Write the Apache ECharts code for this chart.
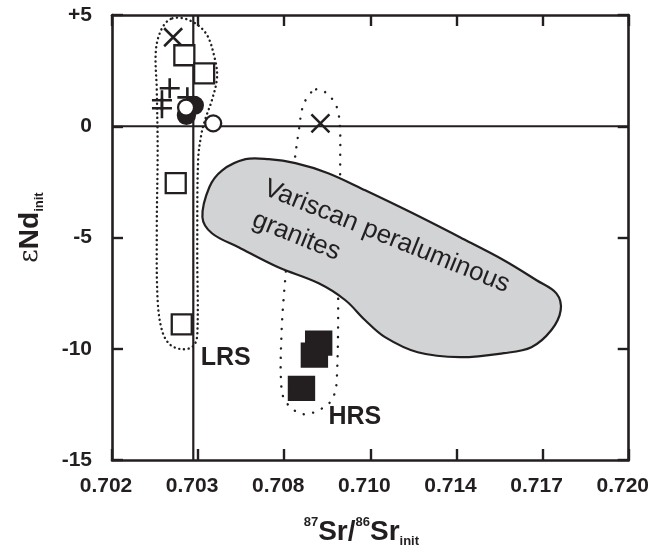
<!DOCTYPE html>
<html>
<head>
<meta charset="utf-8">
<script src="https://cdn.jsdelivr.net/npm/echarts@6/dist/echarts.min.js"></script>
<style>html,body{margin:0;padding:0;background:#fff;}#chart{width:652px;height:553px;}</style>
</head>
<body>
<div id="chart"></div>
<script>
// x axis is drawn in "tick position" units (0..6); labels are the printed ratios
const xTickLabels = ['0.702', '0.703', '0.708', '0.710', '0.714', '0.717', '0.720'];
const yTickValues = [-15, -10, -5, 0, 5];
const yTickLabels = ['-15', '-10', '-5', '0', '+5'];

// symbols [x position, εNd]
const crossPts = [[0.71, 4.0], [2.42, 0.13]];
const openSquarePts = [[0.84, 3.19], [1.07, 2.38], [0.74, -2.56], [0.81, -8.9]];
const plusPts = [[0.67, 1.71], [0.58, 1.17], [0.58, 0.81], [0.875, 1.30]];
const filledCirclePts = [[0.956, 0.94], [0.864, 0.49]];
const openCirclePts = [[0.86, 0.84], [1.175, 0.13]];
const filledSquarePts = [[2.40, -9.75], [2.35, -10.29], [2.20, -11.78]];

// reference lines
const vRefX = 0.944;
const hRefY = 0;

// outlines
const lrsEnvelope = [[0.70, 4.85], [0.90, 4.76], [1.09, 4.18], [1.19, 3.10], [1.22, 2.20], [1.16, 1.17], [1.09, 0.40], [1.04, -0.31], [1.00, -1.53], [0.99, -5.57], [0.99, -9.39], [0.94, -9.89], [0.81, -10.02], [0.67, -9.80], [0.58, -9.17], [0.53, -7.82], [0.52, -4.67], [0.53, -1.08], [0.52, 1.62], [0.51, 3.42], [0.58, 4.40]];
const hrsEnvelope = [[2.37, 1.66], [2.53, 1.35], [2.63, 0.58], [2.65, -1.39], [2.63, -5.57], [2.61, -11.42], [2.55, -12.31], [2.40, -12.76], [2.22, -12.94], [2.05, -12.54], [1.97, -11.87], [1.97, -9.17], [2.02, -6.47], [2.11, -1.98], [2.17, -0.18], [2.23, 1.03]];
const graniteField = [[1.05, -4.09], [1.13, -2.74], [1.28, -1.98], [1.55, -1.48], [1.82, -1.48], [2.13, -1.66], [2.51, -2.11], [2.94, -2.88], [3.47, -3.87], [4.04, -4.99], [4.55, -6.02], [4.93, -6.92], [5.16, -7.51], [5.21, -8.27], [5.10, -9.17], [4.87, -9.93], [4.55, -10.20], [4.04, -10.38], [3.55, -10.16], [3.17, -9.48], [2.94, -8.72], [2.71, -7.82], [2.40, -7.06], [1.93, -6.34], [1.47, -5.44], [1.16, -4.81]];

// annotation texts
const fieldTexts = [{ name: 'Variscan peraluminous', value: [3.19, -4.96] }, { name: 'granites', value: [2.14, -4.94] }];
const groupTexts = [{ name: 'LRS', value: [1.32, -10.43] }, { name: 'HRS', value: [2.82, -13.08] }];

const INK = '#231f20';
const FONT = "'Liberation Sans', Arial, sans-serif";

function polySeries(points, style, z, smooth) {
  return {
    type: 'custom', data: points, z: z, silent: true, clip: false,
    xAxisIndex: 0, yAxisIndex: 0,
    renderItem: function (params, api) {
      if (params.dataIndex !== 0) return null;
      const pts = points.map(function (p) { return api.coord(p); });
      return { type: 'polygon', shape: { points: pts, smooth: smooth }, style: style };
    }
  };
}

function scatter(data, symbol, size, fill, z, bw) {
  return {
    type: 'scatter', data: data, symbol: symbol, symbolSize: size, z: z, silent: true,
    xAxisIndex: 0, yAxisIndex: 0,
    itemStyle: { color: fill, borderColor: INK, borderWidth: bw || 2.3, opacity: 1 }
  };
}

function textSeries(data, rotate, weight, size) {
  return {
    type: 'scatter', data: data, symbolSize: 0, silent: true, z: 7,
    xAxisIndex: 0, yAxisIndex: 0,
    itemStyle: { opacity: 1, color: INK },
    label: {
      show: true, formatter: '{b}', position: 'inside', rotate: rotate, opacity: 1,
      fontSize: size, fontWeight: weight, color: INK, fontFamily: FONT,
      align: 'center', verticalAlign: 'middle', textBorderWidth: 0
    }
  };
}

const xName = '{sup|87}{main|Sr/}{sup|86}{main|Sr}{sub|init}';
const yName = '{eps|ε}{main|Nd}{sub|init}';
const richName = {
  main: { fontSize: 28, fontWeight: 'bold', lineHeight: 32, fontFamily: FONT, color: INK },
  sup: { fontSize: 13, fontWeight: 'bold', lineHeight: 14, verticalAlign: 'top', fontFamily: FONT, color: INK },
  sub: { fontSize: 13, fontWeight: 'bold', lineHeight: 14, verticalAlign: 'bottom', fontFamily: FONT, color: INK },
  eps: { fontSize: 26, fontWeight: 'normal', lineHeight: 32, fontFamily: "'DejaVu Serif', serif", color: INK }
};

const axisLine = { show: true, onZero: false, lineStyle: { color: INK, width: 2.6 } };
const axisTick = { show: true, inside: true, length: 11, lineStyle: { color: INK, width: 2.4 } };

const option = {
  backgroundColor: '#fff',
  animation: false,
  grid: { left: 112, right: 19, top: 15, bottom: 93 },
  xAxis: [
    {
      type: 'value', min: 0, max: 6, interval: 1, position: 'bottom',
      axisLine: axisLine, axisTick: axisTick, splitLine: { show: false },
      axisLabel: {
        formatter: function (v) { return xTickLabels[Math.round(v)]; },
        fontSize: 21, fontWeight: 'bold', color: INK, fontFamily: FONT, margin: 16,
        padding: [0, 12, 0, 0]
      },
      name: xName, nameLocation: 'middle', nameGap: 56,
      nameTextStyle: { rich: richName, padding: [0, 18, 0, 0] }
    },
    {
      type: 'value', min: 0, max: 6, interval: 1, position: 'top',
      axisLine: axisLine, axisTick: axisTick, splitLine: { show: false }, axisLabel: { show: false }
    }
  ],
  yAxis: [
    {
      type: 'value', min: -15, max: 5, interval: 5, position: 'left',
      axisLine: axisLine, axisTick: axisTick, splitLine: { show: false },
      axisLabel: {
        formatter: function (v) { return yTickLabels[yTickValues.indexOf(v)]; },
        fontSize: 21, fontWeight: 'bold', color: INK, fontFamily: FONT, margin: 20
      },
      name: yName, nameLocation: 'middle', nameGap: 66, nameRotate: 90,
      nameTextStyle: { rich: richName, padding: [0, 0, 0, 20] }
    },
    {
      type: 'value', min: -15, max: 5, interval: 5, position: 'right',
      axisLine: axisLine, axisTick: axisTick, splitLine: { show: false }, axisLabel: { show: false }
    }
  ],
  series: [
    polySeries(lrsEnvelope, { fill: 'none', stroke: INK, lineWidth: 2.4, lineDash: [0.1, 4.6], lineCap: 'round' }, 1, 0.35),
    polySeries(hrsEnvelope, { fill: 'none', stroke: INK, lineWidth: 2.4, lineDash: [0.1, 9.5], lineCap: 'round' }, 1, 0.35),
    polySeries(graniteField, { fill: '#d1d3d4', stroke: INK, lineWidth: 2.2 }, 2, 0.35),
    {
      type: 'line', data: [[vRefX, -15], [vRefX, 5]], symbol: 'none', silent: true, z: 3,
      lineStyle: { color: INK, width: 2.2 }
    },
    {
      type: 'line', data: [[0, hRefY], [6, hRefY]], symbol: 'none', silent: true, z: 3,
      lineStyle: { color: INK, width: 2.2 }
    },
    scatter(crossPts, 'path://M0 0 L10 10 M10 0 L0 10', 18, 'none', 5, 2.5),
    scatter(plusPts, 'path://M5 0 L5 10 M0 5 L10 5', 20, 'none', 5, 2.6),
    scatter(openSquarePts, 'rect', 20, '#ffffff', 5),
    scatter(filledCirclePts, 'circle', 17, INK, 5),
    scatter(openCirclePts, 'circle', 16, '#ffffff', 6),
    scatter(filledSquarePts, 'rect', [25, 23], INK, 5),
    textSeries(fieldTexts, -22, 'normal', 26),
    textSeries(groupTexts, 0, 'bold', 25)
  ]
};

const chart = echarts.init(document.getElementById('chart'), null, { renderer: 'canvas' });
chart.setOption(option);
</script>
</body>
</html>
